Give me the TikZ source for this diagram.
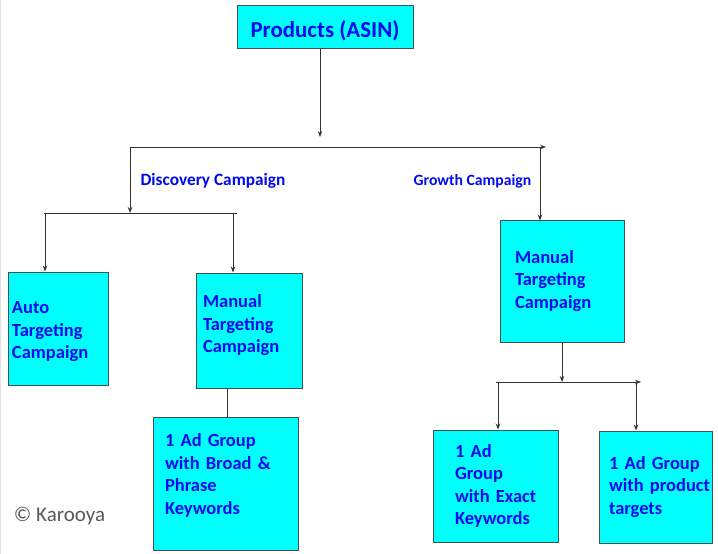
\documentclass[tikz,border=0pt]{standalone}
\usepackage{fontspec}
\setmainfont{Carlito}
\usetikzlibrary{arrows.meta}

\definecolor{boxfill}{RGB}{0,255,255}
\definecolor{boxline}{RGB}{70,80,80}
\definecolor{boxtext}{RGB}{0,10,240}

\tikzset{
    campbox/.style={rectangle, draw=boxline, line width=1pt, fill=boxfill,
        text=boxtext, font=\bfseries\fontsize{18.5}{22.5}\selectfont, align=left, inner ysep=0pt},
    busline/.style={draw=black!80, line width=0.9pt},
    arr/.style={busline, -{Stealth[length=6pt,width=4.5pt]}},
    branchlabel/.style={text=boxtext, font=\bfseries\fontsize{17.3}{20}\selectfont}
}

\begin{document}
\begin{tikzpicture}[x=1pt, y=-1pt]
    \useasboundingbox (0,0) rectangle (718,554);
    \draw [black!12, line width=1pt] (0.5,0) -- (0.5,554);

    \node (prodbox) [campbox, minimum width=176pt, minimum height=43pt, inner xsep=0pt,
        text height=27pt, text depth=6pt, font=\bfseries\fontsize{22.9}{26}\selectfont] at (325,26.5) {Products (ASIN)};

    \node (autocamp) [campbox, minimum width=100pt, minimum height=113pt, inner xsep=4pt, text width=92pt, text depth=42pt]
        at (58,328.5) {Auto\\Targeting\\Campaign};
    \node (manualcamp) [campbox, minimum width=106pt, minimum height=115pt, inner xsep=7pt, text width=92pt, text depth=58pt]
        at (249,330.5) {Manual\\Targeting\\Campaign};
    \node (broadgroup) [campbox, minimum width=145pt, minimum height=133pt, inner xsep=12pt, text width=121pt, text depth=86pt]
        at (225.5,483.5) {1 Ad Group\\with Broad \&\\Phrase\\Keywords};
    \node (growthcamp) [campbox, minimum width=124pt, minimum height=122pt, inner xsep=15pt, text width=94pt]
        at (562,281) {Manual\\Targeting\\Campaign};
    \node (exactgroup) [campbox, minimum width=125pt, minimum height=112pt, inner xsep=22pt, text width=81pt]
        at (495.5,486) {1 Ad\\Group\\\mbox{with Exact}\\Keywords};
    \node (productgroup) [campbox, minimum width=113pt, minimum height=112pt, inner xsep=10pt, text width=93pt]
        at (655.5,487) {\mbox{1 Ad Group}\\\mbox{with product}\\targets};

    \node (disclabel) [branchlabel] at (213,181) {Discovery Campaign};
    \node (growlabel) [branchlabel, font=\bfseries\fontsize{15.7}{19}\selectfont] at (472.5,181) {Growth Campaign};
    \node (karooya) [text=black!65, font=\fontsize{21}{24}\selectfont] at (59.5,516) {© Karooya};

    \coordinate (topleft) at (130,147);
    \coordinate (topright) at (546,147);
    \coordinate (topmid) at (320,137);
    \coordinate (growdrop) at (540,147);
    \coordinate (discleft) at (44,213);
    \coordinate (discright) at (237,213);
    \coordinate (autodrop) at (45,213);
    \coordinate (manualdrop) at (233,213);
    \coordinate (broadlink) at (227,400);
    \coordinate (growleft) at (496,382);
    \coordinate (growright) at (641,382);
    \coordinate (exactdrop) at (498,382);
    \coordinate (productdrop) at (636,382);

    \draw [arr] (prodbox.south -| topmid) -- (topmid);
    \draw [arr] (topleft) -- (topright);
    \draw [arr] (topleft) -- (topleft |- discleft);
    \draw [arr] (growdrop) -- ([yshift=-1pt]growdrop |- growthcamp.north);
    \draw [busline] (discleft) -- (discright);
    \draw [arr] (autodrop) -- (autodrop |- autocamp.north);
    \draw [arr] (manualdrop) -- (manualdrop |- manualcamp.north);
    \draw [busline] (broadlink |- manualcamp.south) -- (broadlink |- broadgroup.north);
    \draw [arr] (growthcamp.south) -- (growthcamp.south |- growleft);
    \draw [arr] (growleft) -- (growright);
    \draw [arr] (exactdrop) -- (exactdrop |- exactgroup.north);
    \draw [arr] (productdrop) -- (productdrop |- productgroup.north);
\end{tikzpicture}
\end{document}
